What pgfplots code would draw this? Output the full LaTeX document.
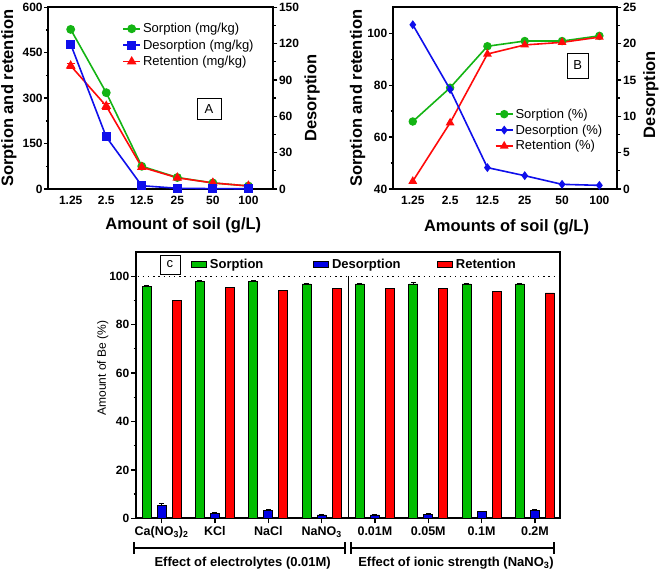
\documentclass[border=0pt]{standalone}
\usepackage{fontspec}
\setmainfont{Liberation Sans}
\usepackage{pgfplots}
\pgfplotsset{compat=1.18}

\definecolor{gL}{RGB}{20,180,20}
\definecolor{bL}{RGB}{15,15,235}
\definecolor{rL}{RGB}{255,10,10}
\definecolor{gB}{RGB}{0,190,0}
\definecolor{bB}{RGB}{0,0,230}
\definecolor{rB}{RGB}{255,0,0}

\newcommand\labfont{\fontsize{16.5}{18}\selectfont\bfseries}
\newcommand\tickfont{\fontsize{12}{13}\selectfont\bfseries}
\newcommand\legfont{\fontsize{13}{15}\selectfont}
\newcommand\legbfont{\fontsize{13}{15}\selectfont\bfseries}

\pgfplotsset{
  common/.style={
    scale only axis, clip=false,
    axis line style={line width=1.8pt},
    /pgf/number format/assume math mode=true,
    tick label style={font=\tickfont},
    major tick length=4pt, minor tick length=2.5pt,
    tick style={line width=1.3pt, black},
    tick align=outside,
    yticklabel style={inner sep=1.5pt},
  },
  panelAB/.style={common, width=225pt, height=181.7pt, anchor=south west,
    xtick={0,...,5}, xticklabels={1.25,2.5,12.5,25,50,100},
    xtick style={draw=none}},
  panelC/.style={scale only axis, at={(136pt,53.7pt)}, anchor=south west,
    width=424pt, height=266.3pt, xmin=-0.48, xmax=7.47, ymin=0, ymax=110},
  Cleg/.style={panelC, hide axis,
    legend image code/.code={\draw[##1, line width=0.8pt] (0pt,-3.3pt) rectangle (15pt,3.3pt);},
    legend style={at={(axis description cs:#1,0.953)}, anchor=west, inner sep=0pt,
      draw=none, fill=none, font=\legbfont, nodes={font=\legbfont, inner sep=3.5pt}}},
}

\begin{document}
\begin{tikzpicture}
\useasboundingbox (0pt,0pt) rectangle (661pt,572pt);

% ---------------- Panel A ----------------
\begin{axis}[panelAB, at={(48.3pt,383pt)}, xmin=-0.63, xmax=5.7,
  ymin=0, ymax=600, ytick={0,150,...,600}, minor y tick num=1, ytick pos=left,
  ylabel={Sorption and retention},
  ylabel style={at={(axis description cs:-0.175,0.5)}, anchor=center, font=\labfont},
  xlabel={Amount of soil (g/L)},
  xlabel style={at={(axis description cs:0.6,-0.221)}, anchor=base, font=\labfont},
  legend style={at={(axis description cs:0.315,0.935)}, anchor=north west,
    draw=none, fill=none, font=\legfont, nodes={font=\legfont}, row sep=1.5pt, cells={anchor=west}},
  legend cell align=left]
\addplot[gL, line width=1.6pt, mark=*, mark size=3.6pt] coordinates
  {(0,527)(1,318)(2,75)(3,38)(4,20)(5,10)};
\addlegendentry{Sorption (mg/kg)}
\addlegendimage{bL, line width=1.6pt, mark=square*, mark size=3.7pt}
\addlegendentry{Desorption (mg/kg)}
\addplot[rL, line width=1.6pt, mark=triangle*, mark size=4pt,
  error bars/.cd, y dir=both, y explicit, error bar style={line width=1pt}] coordinates
  {(0,407) +- (0,9) (1,274) +- (0,9) (2,72) +- (0,5) (3,37) +- (0,3) (4,20) (5,10)};
\addlegendentry{Retention (mg/kg)}
\node[draw, line width=0.7pt, minimum width=24pt, minimum height=21pt, font=\legfont]
  at (axis description cs:0.714,0.44) {A};
\end{axis}
\begin{axis}[panelAB, at={(48.3pt,383pt)}, xmin=-0.63, xmax=5.7,
  ymin=0, ymax=150, ytick={0,30,...,150}, minor y tick num=1, ytick pos=right,
  xtick=\empty,
  ylabel={Desorption},
  ylabel style={at={(axis description cs:1.172,0.5)}, anchor=center, font=\labfont}]
\addplot[bL, line width=1.6pt, mark=square*, mark size=3.7pt] coordinates
  {(0,119.5)(1,43)(2,2.7)(3,0.6)(4,0.3)(5,0.2)};
\end{axis}

% ---------------- Panel B ----------------
\begin{axis}[panelAB, at={(393pt,383pt)}, width=224.3pt, xmin=-0.53, xmax=5.48,
  ymin=40, ymax=110, ytick={40,60,80,100}, minor y tick num=1, ytick pos=left,
  ylabel={Sorption and retention},
  ylabel style={at={(axis description cs:-0.158,0.5)}, anchor=center, font=\labfont},
  xlabel={Amounts of soil (g/L)},
  xlabel style={at={(axis description cs:0.506,-0.234)}, anchor=base, font=\labfont},
  legend style={at={(axis description cs:0.44,0.465)}, anchor=north west,
    draw=none, fill=none, font=\legfont, nodes={font=\legfont}, row sep=1pt, cells={anchor=west}},
  legend cell align=left]
\addplot[gL, line width=1.6pt, mark=*, mark size=3.4pt] coordinates
  {(0,66)(1,79)(2,95)(3,97)(4,97)(5,99)};
\addlegendentry{Sorption (\%)}
\addlegendimage{bL, line width=1.6pt, mark=diamond*, mark size=3.2pt}
\addlegendentry{Desorption (\%)}
\addplot[rL, line width=1.6pt, mark=triangle*, mark size=3.5pt] coordinates
  {(0,43)(1,65.5)(2,92)(3,95.5)(4,96.5)(5,98.5)};
\addlegendentry{Retention (\%)}
\node[draw, line width=0.7pt, minimum width=21pt, minimum height=25pt, font=\legfont]
  at (axis description cs:0.823,0.68) {B};
\end{axis}
\begin{axis}[panelAB, at={(393pt,383pt)}, width=224.3pt, xmin=-0.53, xmax=5.48,
  ymin=0, ymax=25, ytick={0,5,...,25}, minor y tick num=1, ytick pos=right,
  xtick=\empty,
  ylabel={Desorption},
  ylabel style={at={(axis description cs:1.150,0.52)}, anchor=center, font=\labfont}]
\addplot[bL, line width=1.6pt, mark=diamond*, mark size=3.2pt] coordinates
  {(0,22.6)(1,13.7)(2,2.94)(3,1.83)(4,0.64)(5,0.5)};
\end{axis}

% ---------------- Panel C ----------------
\begin{axis}[common, panelC,
  ytick={0,20,...,100}, minor y tick num=1, ytick pos=left,
  xtick={0,...,7}, xtick pos=bottom, major tick length=5pt,
  xticklabels={Ca(NO\textsubscript{3})\textsubscript{2},KCl,NaCl,NaNO\textsubscript{3},0.01M,0.05M,0.1M,0.2M},
  xticklabel style={font=\fontsize{12.5}{13}\selectfont\bfseries},
  ylabel={Amount of Be (\%)},
  ylabel style={at={(axis description cs:-0.0785,0.564)}, anchor=center, font=\fontsize{12}{13}\selectfont},
  bar width=9pt]
\addplot[ybar, bar shift=-15pt, fill=gB, draw=black, line width=0.8pt,
  error bars/.cd, y dir=plus, y explicit, error bar style={line width=0.8pt, xshift=-15pt},
  error mark options={rotate=90, mark size=2.5pt, line width=0.8pt}] coordinates
  {(0,95.7) +- (0,0.6) (1,97.8) +- (0,0.3) (2,97.8) +- (0,0.3) (3,96.8) +- (0,0.4)
   (4,96.8) +- (0,0.4) (5,96.8) +- (0,0.5) (6,96.8) +- (0,0.3) (7,96.8) +- (0,0.4)};
\addplot[ybar, bar shift=0pt, fill=bB, draw=black, line width=0.8pt,
  error bars/.cd, y dir=plus, y explicit, error bar style={line width=0.8pt},
  error mark options={rotate=90, mark size=2.5pt, line width=0.8pt}] coordinates
  {(0,5.2) +- (0,0.8) (1,2.1) +- (0,0.3) (2,3.3) +- (0,0.4) (3,1.4) +- (0,0.3)
   (4,1.4) +- (0,0.3) (5,1.6) +- (0,0.3) (6,2.7) +- (0,0.3) (7,3.3) +- (0,0.2)};
\addplot[ybar, bar shift=15pt, fill=rB, draw=black, line width=0.8pt] coordinates
  {(0,90.1)(1,95.5)(2,94.1)(3,95)(4,95)(5,94.8)(6,93.7)(7,93.1)};
\addplot[black, line width=1.4pt, dash pattern=on 1.4pt off 3.8pt] coordinates
  {(-0.45,100)(7.45,100)};
\addplot[black, line width=1.4pt] coordinates {(3.5,0)(3.5,100)};
\node[draw, line width=0.7pt, minimum width=20pt, minimum height=19pt, font=\legfont]
  at (axis description cs:0.08,0.953) {c};
% brackets
\draw[line width=1.5pt] (axis cs:-0.52,-12.3) -- (axis cs:3.44,-12.3);
\draw[line width=1.5pt] (axis cs:-0.52,-9.8) -- (axis cs:-0.52,-14.6);
\draw[line width=1.5pt] (axis cs:3.44,-9.8) -- (axis cs:3.44,-14.6);
\draw[line width=1.5pt] (axis cs:3.55,-12.3) -- (axis cs:7.36,-12.3);
\draw[line width=1.5pt] (axis cs:3.55,-9.8) -- (axis cs:3.55,-14.6);
\draw[line width=1.5pt] (axis cs:7.36,-9.8) -- (axis cs:7.36,-14.6);
\node[font=\legbfont] at (axis cs:1.52,-18.5) {Effect of electrolytes (0.01M)};
\node[font=\legbfont] at (axis cs:5.52,-18.5) {Effect of ionic strength (NaNO\textsubscript{3})};
\end{axis}
% legend entries of panel C, one per overlaid axis
\begin{axis}[Cleg=0.1285]
\addlegendimage{fill=gB, draw=black}
\addlegendentry{Sorption}
\end{axis}
\begin{axis}[Cleg=0.4163]
\addlegendimage{fill=bB, draw=black}
\addlegendentry{Desorption}
\end{axis}
\begin{axis}[Cleg=0.7087]
\addlegendimage{fill=rB, draw=black}
\addlegendentry{Retention}
\end{axis}
\end{tikzpicture}
\end{document}
